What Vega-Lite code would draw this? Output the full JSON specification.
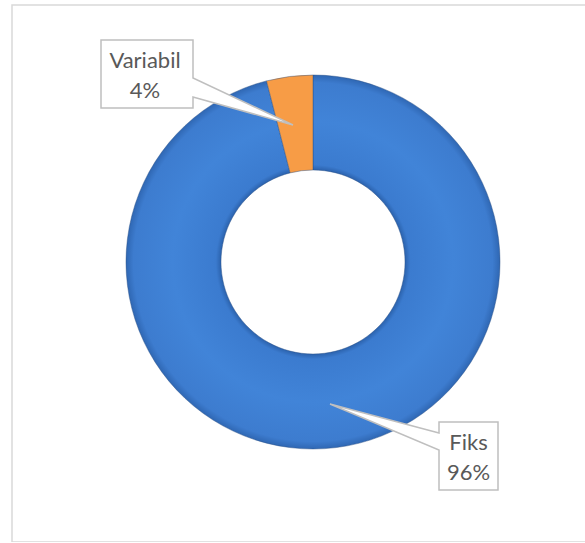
{
  "$schema": "https://vega.github.io/schema/vega-lite/v6.json",
  "width": 590,
  "height": 537,
  "autosize": {"type": "none"},
  "padding": {"left": 12, "top": 5, "right": 0, "bottom": 0},
  "background": "white",
  "config": {"view": {"stroke": "#d9d9d9", "strokeWidth": 1.5}},
  "data": {"values": [
    {"category": "Fiks", "value": 0.96},
    {"category": "Variabil", "value": 0.04}
  ]},
  "encoding": {
    "x": {"datum": 0, "type": "quantitative", "scale": {"domain": [-301, 289], "nice": false, "zero": false}, "axis": null},
    "y": {"datum": 0, "type": "quantitative", "scale": {"domain": [-280, 257], "nice": false, "zero": false}, "axis": null}
  },
  "layer": [
    {
      "mark": {"type": "arc", "innerRadius": 92, "outerRadius": 187, "stroke": "#2a4f85", "strokeWidth": 1, "strokeOpacity": 0.45},
      "encoding": {
        "theta": {"field": "value", "type": "quantitative", "stack": true},
        "color": {
          "condition": {"test": "datum.category === 'Fiks'", "value": {"gradient": "radial", "x1": 0.5, "y1": 0.5, "r1": 0, "x2": 0.5, "y2": 0.5, "r2": 0.5, "stops": [
            {"offset": 0.0, "color": "#2b62ad"},
            {"offset": 0.492, "color": "#2b62ad"},
            {"offset": 0.52, "color": "#3b7bcf"},
            {"offset": 0.75, "color": "#4184d8"},
            {"offset": 0.96, "color": "#3d7ccf"},
            {"offset": 1.0, "color": "#2f67b3"}
          ]}},
          "value": "#f79c46"
        },
        "order": {"field": "category", "type": "ordinal", "sort": "ascending"},
        "detail": {"field": "category", "type": "nominal"}
      }
    },
    {
      "mark": {"type": "point", "filled": true, "size": 4, "fill": "white", "stroke": "#bfbfbf", "strokeWidth": 1.5, "opacity": 1},
      "encoding": {
        "shape": {"field": "category", "type": "nominal", "legend": null, "scale": {"domain": ["Fiks", "Variabil"], "range": ["M126,160 H185 V228 H126 V188 L17,142 L126,171 Z", "M-212,-222 H-120 V-184 L-20,-137 L-120,-165 V-154 H-212 Z"]}}
      }
    },
    {
      "transform": [{"calculate": "datum.category + '\\n' + format(datum.value, '.0%')", "as": "label"}],
      "mark": {"type": "text", "radius": 250.6, "thetaOffset": -0.609, "dy": -15, "font": "Lato", "fontSize": 22, "lineHeight": 30, "lineBreak": "\n", "align": "center", "baseline": "middle", "color": "#595959"},
      "encoding": {
        "theta": {"field": "value", "type": "quantitative", "stack": true},
        "detail": {"field": "category", "type": "nominal"},
        "order": {"field": "category", "type": "ordinal", "sort": "ascending"},
        "text": {"condition": {"test": "datum.category === 'Variabil'", "field": "label", "type": "nominal"}, "value": ""}
      }
    },
    {
      "transform": [{"calculate": "datum.category + '\\n' + format(datum.value, '.0%')", "as": "label"}],
      "mark": {"type": "text", "radius": 250.2, "thetaOffset": -0.545, "dy": -15, "font": "Lato", "fontSize": 22, "lineHeight": 30, "lineBreak": "\n", "align": "center", "baseline": "middle", "color": "#595959"},
      "encoding": {
        "theta": {"field": "value", "type": "quantitative", "stack": true},
        "detail": {"field": "category", "type": "nominal"},
        "order": {"field": "category", "type": "ordinal", "sort": "ascending"},
        "text": {"condition": {"test": "datum.category === 'Fiks'", "field": "label", "type": "nominal"}, "value": ""}
      }
    }
  ]
}
